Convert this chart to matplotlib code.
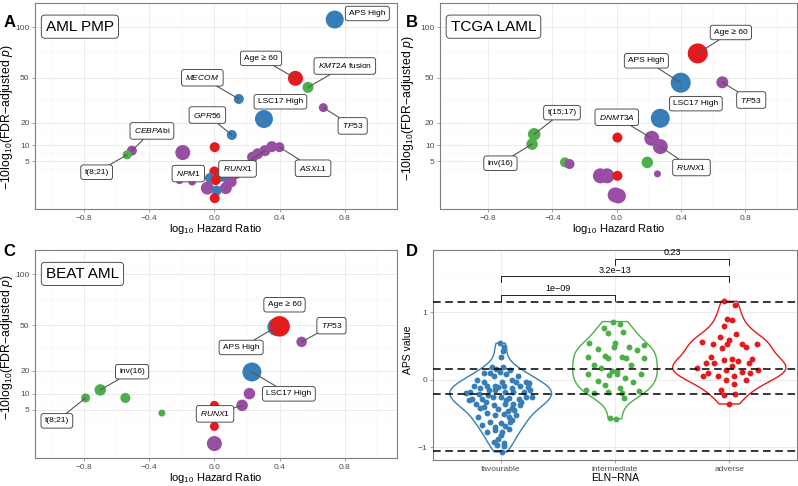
import numpy as np
import matplotlib
matplotlib.use("Agg")
import matplotlib.pyplot as plt

plt.rcParams['font.family'] = ['Liberation Sans', 'DejaVu Sans']
plt.rcParams['mathtext.fontset'] = 'custom'
plt.rcParams['mathtext.rm'] = 'Liberation Sans'
plt.rcParams['mathtext.it'] = 'Liberation Sans:italic'

COL = {'expr': '#377EB8', 'clin': '#E41A1C', 'fus': '#4DAF4A', 'mut': '#984EA3'}

# ---- panel A : AML PMP ----
a_hr = [0.738, 0.497, 0.574, 0.15, 0.304, 0.668, 0.107, -0.506, -0.535, -0.194, 0.002,
        0.399, 0.352, 0.31, 0.265, 0.234, 0.131, 0.09, 0.07, 0.1, -0.136, -0.214,
        0.0, -0.027, 0.043, 0.008, -0.043, 0.014, 0.002]
a_padj = [109, 49.5, 42.4, 34.1, 21.9, 28.5, 14.1, 8.1, 6.8, 7.5, 9.3,
          9.3, 9.5, 8.1, 7.1, 6.1, 2.4, 1.3, 0.46, 1.12, 1.12, 1.3,
          2.7, 1.6, 1.8, 1.3, 0.46, 0.29, 0.01]
a_size = [18, 15, 11, 10, 18, 9, 10, 10, 9, 15, 10,
          10, 11, 11, 11, 11, 12, 12, 12, 12, 8, 8,
          10, 10, 10, 10, 13, 10, 10]
a_group = ['expr', 'clin', 'fus', 'expr', 'expr', 'mut', 'expr', 'mut', 'fus', 'mut', 'clin',
           'mut', 'mut', 'mut', 'mut', 'mut', 'mut', 'mut', 'mut', 'mut', 'mut', 'mut',
           'clin', 'expr', 'expr', 'clin', 'mut', 'expr', 'clin']
a_labels = [(0, 'APS High', 0.938, 10.79, False),
            (1, 'Age ≥ 60', 0.286, 8.19, True),
            (2, r'$\mathit{KMT2A}$ fusion', 0.80, 7.75, True),
            (3, r'$\mathit{MECOM}$', -0.074, 7.07, True),
            (4, 'LSC17 High', 0.405, 5.68, False),
            (5, r'$\mathit{TP53}$', 0.848, 4.28, True),
            (6, r'$\mathit{GPR56}$', -0.043, 4.91, True),
            (7, r'$\mathit{CEBPA}$bi', -0.383, 3.99, True),
            (8, 't(8;21)', -0.722, 1.60, True),
            (20, r'$\mathit{NPM}$1', -0.16, 1.52, False),
            (13, r'$\mathit{RUNX}$1', 0.142, 1.79, True),
            (11, r'$\mathit{ASXL}$1', 0.605, 1.83, True)]

# ---- panel B : TCGA LAML ----
b_hr = [0.504, 0.398, 0.657, 0.271, 0.218, 0.271, 0.004, -0.514, -0.527, -0.322, -0.294,
        0.19, 0.253, -0.102, -0.061, 0.004, -0.01, 0.01]
b_padj = [71.9, 46, 46.3, 22.3, 12.7, 9.5, 13, 14.4, 10.4, 4.7, 4.3,
          4.7, 2.26, 1.93, 1.93, 1.93, 0.08, 0.05]
b_size = [20, 20, 12, 19, 15, 15, 10, 12.5, 11.5, 10, 10,
          11.5, 7, 15, 15, 10, 15, 15]
b_group = ['clin', 'expr', 'mut', 'expr', 'mut', 'mut', 'clin', 'fus', 'fus', 'fus', 'mut',
           'fus', 'mut', 'mut', 'mut', 'clin', 'mut', 'mut']
b_labels = [(0, 'Age ≥ 60', 0.71, 9.69, True),
            (1, 'APS High', 0.184, 8.05, True),
            (2, r'$\mathit{TP53}$', 0.837, 5.78, True),
            (3, 'LSC17 High', 0.492, 5.57, False),
            (7, 't(15;17)', -0.341, 5.05, True),
            (4, r'$\mathit{DNMT3A}$', 0.0, 4.78, True),
            (8, 'inv(16)', -0.724, 2.12, True),
            (5, r'$\mathit{RUNX}$1', 0.465, 1.87, True)]

# ---- panel C : BEAT AML ----
c_hr = [0.38, 0.4, 0.535, 0.23, 0.215, 0.17, 0.0, 0.0, 0.0, -0.7, -0.79, -0.546, -0.322]
c_padj = [48.8, 49.3, 37.6, 19.4, 10, 6.2, 6.2, 1.65, 0.09, 11.4, 8.5, 8.5, 4.2]
c_size = [18, 20.5, 10.5, 19, 11.5, 11.5, 9, 9, 15, 11.5, 9, 10, 7]
c_group = ['expr', 'clin', 'mut', 'expr', 'mut', 'mut', 'clin', 'clin', 'mut',
           'fus', 'fus', 'fus', 'fus']
c_labels = [(1, 'Age ≥ 60', 0.43, 8.26, False),
            (2, r'$\mathit{TP53}$', 0.718, 7.06, True),
            (0, 'APS High', 0.164, 5.81, True),
            (9, 'inv(16)', -0.505, 4.42, True),
            (3, 'LSC17 High', 0.457, 3.15, True),
            (5, r'$\mathit{RUNX}$1', 0.004, 2.00, True),
            (10, 't(8;21)', -0.966, 1.60, True)]

# ---- panel D : APS by ELN-RNA ----
eln = ['favourable', 'intermediate', 'adverse']
fav_dx = [-0.01, 0.03, 0.02, 0.00, -0.08, -0.04, 0.02, 0.08, -0.09, -0.01, 0.05, -0.06,
          -0.21, -0.15, 0.01, 0.10, 0.13, 0.22, -0.23, -0.18, -0.12, -0.05, -0.02, 0.03,
          0.10, 0.17, 0.24, -0.27, -0.19, -0.11, -0.05, 0.04, 0.11, 0.20, 0.26, -0.25,
          -0.16, -0.07, 0.00, 0.07, 0.16, 0.22, -0.22, -0.13, -0.06, 0.04, 0.11, 0.18,
          -0.15, -0.02, 0.06, 0.10, -0.12, -0.05, 0.03, 0.07, 0.13, -0.16, -0.09, 0.00,
          0.04, 0.08, -0.12, -0.05, 0.01, 0.07, -0.06, -0.02, 0.03, -0.03, 0.03, 0.01,
          -0.30, -0.28, 0.27, 0.25, 0.15, -0.15, 0.10, -0.20, 0.00, 0.12, -0.10, 0.05,
          -0.05, 0.17, -0.18]
fav_aps = [0.54, 0.49, 0.43, 0.34, 0.18, 0.16, 0.18, 0.14, 0.10, 0.12, 0.08, 0.05,
           -0.01, -0.04, -0.03, 0.00, -0.03, -0.04, -0.10, -0.13, -0.09, -0.09, -0.11, -0.10,
           -0.12, -0.09, -0.11, -0.19, -0.21, -0.22, -0.16, -0.18, -0.19, -0.18, -0.16, -0.28,
           -0.28, -0.26, -0.26, -0.27, -0.28, -0.26, -0.36, -0.33, -0.38, -0.36, -0.36, -0.33,
           -0.41, -0.43, -0.46, -0.42, -0.49, -0.53, -0.51, -0.55, -0.53, -0.67, -0.62, -0.64,
           -0.68, -0.62, -0.78, -0.74, -0.78, -0.73, -0.92, -0.88, -0.94, -0.97, -0.98, -1.07,
           -0.20, -0.30, -0.25, -0.05, 0.05, 0.10, -0.60, -0.55, -0.82, -0.45, -0.15, -0.30,
           -0.70, -0.38, -0.42]
int_dx = [-0.02, 0.04, -0.10, -0.06, 0.07, -0.23, -0.15, 0.00, -0.01, 0.12, 0.19, 0.25,
          -0.24, -0.09, -0.06, 0.06, 0.10, 0.25, -0.18, -0.12, -0.03, 0.02, 0.14, -0.24,
          -0.05, 0.02, 0.09, 0.23, -0.15, -0.09, 0.16, -0.25, -0.18, -0.06, 0.04, 0.06,
          0.21, 0.08, -0.04, 0.01]
int_aps = [0.86, 0.82, 0.76, 0.69, 0.70, 0.54, 0.46, 0.54, 0.49, 0.48, 0.44, 0.51,
           0.34, 0.35, 0.32, 0.34, 0.32, 0.32, 0.22, 0.17, 0.13, 0.13, 0.21, 0.08,
           0.07, 0.08, 0.02, 0.08, -0.02, -0.08, -0.04, -0.15, -0.20, -0.18, -0.12, -0.20,
           -0.17, -0.27, -0.57, -0.58]
adv_dx = [-0.05, 0.05, -0.02, 0.02, -0.05, 0.06, -0.08, -0.24, -0.14, 0.00, -0.02, 0.11,
          -0.06, 0.15, 0.24, -0.16, -0.20, -0.05, 0.02, 0.08, 0.20, 0.17, -0.13, -0.28,
          0.02, 0.25, -0.19, -0.23, -0.10, -0.03, 0.04, 0.11, 0.18, -0.03, 0.04, 0.15,
          -0.07, 0.05, -0.05, 0.00]
adv_aps = [1.16, 1.10, 0.90, 0.88, 0.80, 0.67, 0.63, 0.56, 0.53, 0.58, 0.53, 0.53,
           0.47, 0.48, 0.53, 0.34, 0.25, 0.29, 0.31, 0.27, 0.30, 0.24, 0.24, 0.17,
           0.20, 0.15, 0.10, 0.05, 0.06, 0.14, 0.06, 0.11, 0.10, -0.01, -0.06, 0.00,
           -0.16, -0.21, -0.23, -0.36]
aps_cuts = [1.15, 0.153, -0.207, -1.062]
comparisons = [(1, 2, '1e\u221209', 1.26), (1, 3, '3.2e\u221213', 1.53), (2, 3, '0.23', 1.79)]


def tr(v):
    v = np.asarray(v, dtype=float)
    return np.sign(v) * np.sqrt(np.abs(v))


def style(ax):
    for sp in ax.spines.values():
        sp.set_color('#7f7f7f')
        sp.set_linewidth(0.8)
    ax.tick_params(which='major', length=2.5, width=0.5, color='#7f7f7f',
                   labelsize=6, labelcolor='#4d4d4d', pad=1.5)
    ax.tick_params(which='minor', length=0)
    ax.grid(which='major', color='#e8e8e8', lw=0.6)
    ax.grid(which='minor', color='#f3f3f3', lw=0.35)
    ax.set_axisbelow(True)


def volcano(ax, hr, padj, size, group, labels, title, ylab_x, ylab_y):
    style(ax)
    ax.scatter(hr, tr(padj), s=(0.72 * np.array(size)) ** 2,
               c=[COL[g] for g in group], linewidths=0, zorder=3)
    for i, txt, lx, ly, seg in labels:
        ax.annotate(txt, xy=(hr[i], tr(padj[i])), xytext=(lx, ly), ha='center', va='center',
                    fontsize=6, zorder=5,
                    bbox=dict(boxstyle='round,pad=0.45,rounding_size=0.3', fc='white',
                              ec='#333333', lw=0.6),
                    arrowprops=dict(arrowstyle='-', color='#555555', lw=0.8,
                                    shrinkA=0, shrinkB=0) if seg else None)
    ax.text(0.03, 0.885, title, transform=ax.transAxes, fontsize=11, va='center', ha='left',
            bbox=dict(boxstyle='round,pad=0.3,rounding_size=0.25', fc='white', ec='#333333', lw=0.6))
    ax.set_xlim(-1.1, 1.12)
    ax.set_ylim(-0.53, 11.4)
    ax.set_xticks([-0.8, -0.4, 0.0, 0.4, 0.8])
    ax.set_xticklabels(['\u22120.8', '\u22120.4', '0.0', '0.4', '0.8'])
    ax.set_xticks([-1.0, -0.6, -0.2, 0.2, 0.6, 1.0], minor=True)
    yt = [5, 10, 20, 50, 100]
    ax.set_yticks(tr(yt))
    ax.set_yticklabels([str(v) for v in yt])
    ax.set_yticks([1.77, 2.70, 3.82, 5.77, 8.54, 10.46], minor=True)
    ax.set_xlabel(r'log$_{10}$ Hazard Ratio', fontsize=8, labelpad=0.5)
    ax.set_ylabel('\u221210log$_{10}$(FDR\u2212adjusted $p$)', fontsize=8.8)
    ax.yaxis.set_label_coords(ylab_x, ylab_y)


fig = plt.figure(figsize=(7.98, 4.86), dpi=100)
axA = fig.add_axes([0.0439, 0.570, 0.4536, 0.4239])
axB = fig.add_axes([0.5514, 0.570, 0.4470, 0.4239])
axC = fig.add_axes([0.0439, 0.0576, 0.4536, 0.4280])
axD = fig.add_axes([0.5422, 0.0535, 0.4562, 0.4321])

volcano(axA, a_hr, a_padj, a_size, a_group, a_labels, 'AML PMP', -0.054, 0.447)
volcano(axB, b_hr, b_padj, b_size, b_group, b_labels, 'TCGA LAML', -0.068, 0.49)
volcano(axC, c_hr, c_padj, c_size, c_group, c_labels, 'BEAT AML', -0.054, 0.53)

# panel D
style(axD)
groups = [(fav_dx, fav_aps, COL['expr'], 0.89),
          (int_dx, int_aps, COL['fus'], 0.74),
          (adv_dx, adv_aps, COL['clin'], 0.99)]
for k, (dx, aps, col, w) in enumerate(groups):
    pos = k + 1
    n = len(aps)
    parts = axD.violinplot([aps], positions=[pos], widths=[w], showextrema=False,
                           bw_method=0.9 * n ** -0.2, points=200)
    for body in parts['bodies']:
        body.set_facecolor('none')
        body.set_edgecolor(col)
        body.set_linewidth(1.0)
        body.set_alpha(1)
        body.set_zorder(2)
    axD.scatter(pos + np.array(dx), aps, s=18, color=col, linewidths=0, zorder=3)

for c in aps_cuts:
    axD.axhline(c, color='black', lw=1.1, ls=(0, (5, 3)), zorder=4)

for g1, g2, txt, yb in comparisons:
    axD.plot([g1, g1, g2, g2], [yb - 0.09, yb, yb, yb - 0.09], color='black', lw=0.6)
    axD.text((g1 + g2) / 2, yb + 0.02, txt, ha='center', va='bottom', fontsize=6.5)

axD.set_xlim(0.405, 3.59)
axD.set_ylim(-1.19, 1.92)
axD.set_xticks([1, 2, 3])
axD.set_xticklabels(eln)
axD.set_yticks([-1, 0, 1])
axD.set_yticklabels(['\u22121', '0', '1'])
axD.set_yticks([-0.5, 0.5, 1.5], minor=True)
axD.set_xlabel('ELN\u2212RNA', fontsize=7.5, labelpad=0.5)
axD.set_ylabel('APS value', fontsize=7.5)
axD.yaxis.set_label_coords(-0.054, 0.524)

for lab, x, y in [('A', 0.004, 0.953), ('B', 0.509, 0.953), ('C', 0.004, 0.482), ('D', 0.509, 0.482)]:
    fig.text(x, y, lab, fontsize=12, fontweight='bold', va='center', ha='left')

fig.savefig('out.png', dpi=100)
